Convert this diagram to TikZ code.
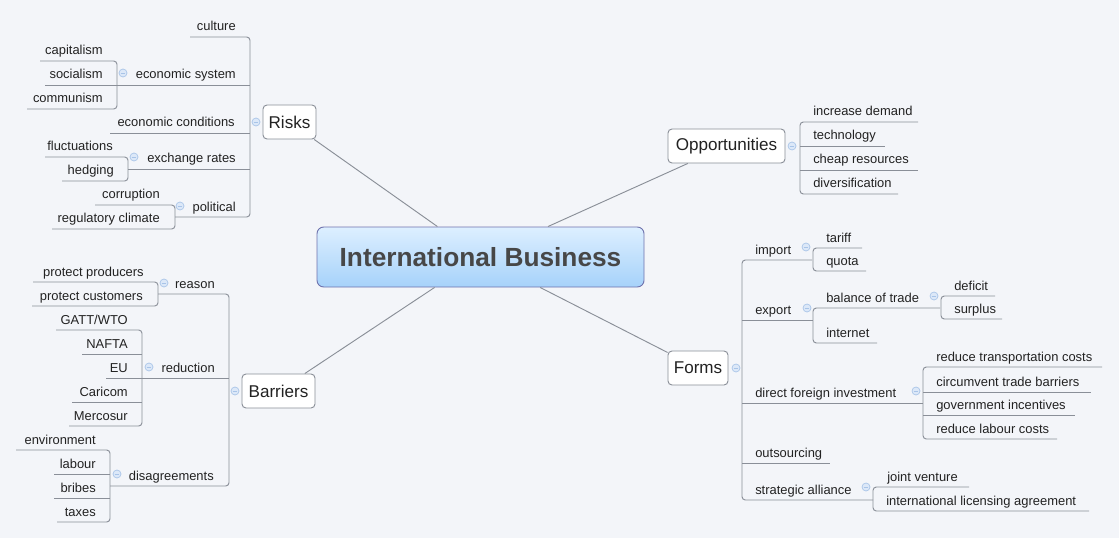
\documentclass[tikz,border=0pt]{standalone}
\usepackage{fontspec}
\setmainfont{Liberation Sans}
\begin{document}
\begin{tikzpicture}[x=0.75pt,y=-0.75pt,
  ln/.style={draw=lineg,line width=0.7pt},
  br/.style={ln,rounded corners=2.5pt},
  lt/.style={font=\fontsize{9.7}{11}\selectfont,text=txt,inner sep=0pt},
  sub/.style={draw=lineg,line width=0.7pt,rounded corners=3pt,fill=white,font=\fontsize{12.8}{14}\selectfont,text=txt,minimum height=25.5pt,inner sep=1pt},
  tog/.style={circle,draw=togd,fill=togf,minimum size=6pt,inner sep=0pt,line width=0.5pt}]
\definecolor{bg}{HTML}{F3F5F9}
\definecolor{lineg}{HTML}{8A8F98}
\definecolor{txt}{HTML}{222222}
\definecolor{togd}{HTML}{A8C4E8}
\definecolor{togf}{HTML}{DCE8F8}
\definecolor{ctop}{HTML}{DDEFFF}
\definecolor{cbot}{HTML}{A6D2FA}
\newcommand{\lL}[4]{\node[lt,anchor=base east] (#1) at (#2,#3-6) {#4};}
\newcommand{\lR}[4]{\node[lt,anchor=base west] (#1) at (#2,#3-6) {#4};}
\newcommand{\tg}[3]{\node[tog] (#1) at (#2,#3) {}; \draw[togd,line width=0.6pt] ([xshift=-1.8pt]#1.center)--([xshift=1.8pt]#1.center);}
\path[fill=bg] (0,0) rectangle (1119,538);
\useasboundingbox (0,0) rectangle (1119,538);

% central
\node[draw=lineg!80!blue,line width=0.7pt,rounded corners=5pt,top color=ctop,bottom color=cbot,minimum width=245.25pt,minimum height=45pt,font=\bfseries\fontsize{19.7}{22}\selectfont,text=black!72] (center) at (480.5,257) {International Business};
\node[sub,minimum width=39.75pt] (risks) at (289.5,122) {Risks};
\node[sub,minimum width=87.75pt] (opp) at (726.5,146) {Opportunities};
\node[sub,minimum width=54.75pt] (barriers) at (278.5,391) {Barriers};
\node[sub,minimum width=45pt] (forms) at (698,368) {Forms};
\draw[ln] (risks)--(center);
\draw[ln] (opp)--(center);
\draw[ln] (barriers)--(center);
\draw[ln] (forms)--(center);

% Risks
\draw[br] (190,37)--(250,37)--(250,217)--(175,217);
\draw[ln] (45,85)--(250,85) (110,133)--(250,133) (128,169)--(250,169);
\draw[br] (40,61)--(117,61)--(117,109)--(27,109);
\draw[br] (45,157)--(128,157)--(128,181)--(62,181);
\draw[br] (95,205)--(175,205)--(175,229)--(52,229);
\tg{t1}{256}{122}\tg{t2}{123}{73}\tg{t3}{134}{157}\tg{t4}{180}{206}
\lL{a1}{236}{37}{culture}
\lL{a2}{236}{85}{economic system}
\lL{a3}{103}{61}{capitalism}
\lL{a4}{103}{85}{socialism}
\lL{a5}{103}{109}{communism}
\lL{a6}{235}{133}{economic conditions}
\lL{a7}{236}{169}{exchange rates}
\lL{a8}{113}{157}{fluctuations}
\lL{a9}{114}{181}{hedging}
\lL{a10}{236}{217}{political}
\lL{a11}{160}{205}{corruption}
\lL{a12}{160}{229}{regulatory climate}

% Opportunities
\draw[br] (918,122)--(800,122)--(800,194)--(898,194);
\draw[ln] (800,146)--(885,146) (800,170)--(918,170);
\tg{t5}{792}{146}
\lR{b1}{813}{122}{increase demand}
\lR{b2}{813}{146}{technology}
\lR{b3}{813}{170}{cheap resources}
\lR{b4}{813}{194}{diversification}

% Forms
\draw[br] (812,260)--(742,260)--(742,500)--(873,500);
\draw[ln] (742,320)--(813,320) (742,403)--(923,403) (742,463)--(830,463);
\draw[br] (862,248)--(813,248)--(813,271)--(866,271);
\draw[br] (940,308)--(813,308)--(813,343)--(877,343);
\draw[br] (995,296)--(941,296)--(941,319)--(1002,319);
\draw[br] (1102,367)--(923,367)--(923,439)--(1057,439);
\draw[ln] (923,392)--(1091,392) (923,415)--(1075,415);
\draw[br] (969,487)--(873,487)--(873,511)--(1089,511);
\tg{t6}{736}{368}\tg{t7}{806}{247}\tg{t8}{807}{308}\tg{t9}{934}{296}\tg{t10}{916}{391}\tg{t11}{866}{487}
\lR{c1}{755}{260}{import}
\lR{c2}{826}{248}{tariff}
\lR{c3}{826}{271}{quota}
\lR{c4}{755}{320}{export}
\lR{c5}{826}{308}{balance of trade}
\lR{c6}{954}{296}{deficit}
\lR{c7}{954}{319}{surplus}
\lR{c8}{826}{343}{internet}
\lR{c9}{755}{403}{direct foreign investment}
\lR{c10}{936}{367}{reduce transportation costs}
\lR{c11}{936}{392}{circumvent trade barriers}
\lR{c12}{936}{415}{government incentives}
\lR{c13}{936}{439}{reduce labour costs}
\lR{c14}{755}{463}{outsourcing}
\lR{c15}{755}{500}{strategic alliance}
\lR{c16}{887}{487}{joint venture}
\lR{c17}{886}{511}{international licensing agreement}

% Barriers
\draw[br] (158,294)--(229,294)--(229,486)--(110,486);
\draw[ln] (106,378)--(229,378);
\draw[br] (33,282)--(158,282)--(158,306)--(32,306);
\draw[br] (56,330)--(142,330)--(142,426)--(69,426);
\draw[ln] (82,354)--(142,354) (72,402)--(142,402);
\draw[br] (16,450)--(110,450)--(110,522)--(57,522);
\draw[ln] (54,474)--(110,474) (54,498)--(110,498);
\tg{t12}{235}{391}\tg{t13}{164}{283}\tg{t14}{149}{367}\tg{t15}{117}{474}
\lL{d1}{215}{294}{reason}
\lL{d2}{144}{282}{protect producers}
\lL{d3}{143}{306}{protect customers}
\lL{d4}{215}{378}{reduction}
\lL{d5}{128}{330}{GATT/WTO}
\lL{d6}{128}{354}{NAFTA}
\lL{d7}{128}{378}{EU}
\lL{d8}{128}{402}{Caricom}
\lL{d9}{128}{426}{Mercosur}
\lL{d10}{214}{486}{disagreements}
\lL{d11}{96}{450}{environment}
\lL{d12}{96}{474}{labour}
\lL{d13}{96}{498}{bribes}
\lL{d14}{96}{522}{taxes}
\end{tikzpicture}
\end{document}
